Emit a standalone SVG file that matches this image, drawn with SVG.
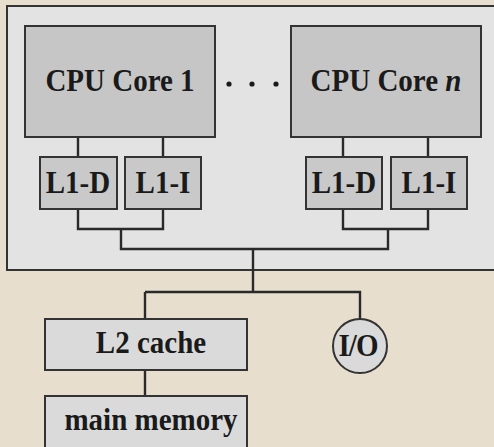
<svg xmlns="http://www.w3.org/2000/svg" width="494" height="447" viewBox="0 0 494 447">
<style>
.box{stroke:#333333;stroke-width:2}
.core{fill:#c6c6c6}
.l1{fill:#c9c9c9}
.lt{fill:#dadada}
.t{font-family:"Liberation Serif","Times New Roman",serif;font-weight:bold;font-size:29px;fill:#1a1a1a;text-anchor:middle}
.w{fill:none;stroke:#2a2a2a;stroke-width:2.4}
</style>
<rect width="494" height="447" fill="#e7dece"/>
<g id="chip"><rect class="box" x="7" y="6" width="492" height="264" fill="#e3e3e3"/></g>
<g id="connectors">
<path class="w" d="M78 137V157M163 137V157M343 137V157M428 137V157"/>
<path class="w" d="M78 209V229H163V209M121 229V249H388V229M343 209V229H428V209"/>
<path class="w" d="M253 249V292M145 292H360V319M145 292V319M145 370V396"/>
</g>
<g id="core1"><rect class="box core" x="25" y="26" width="190" height="111"/><text class="t" x="120" y="91" transform="translate(0,-7.28) scale(1,1.08)">CPU Core 1</text></g>
<g id="dots" fill="#1a1a1a"><circle cx="229" cy="84" r="2.6"/><circle cx="252" cy="84" r="2.6"/><circle cx="276" cy="84" r="2.6"/></g>
<g id="coren"><rect class="box core" x="291" y="26" width="190" height="111"/><text class="t" x="386" y="91" transform="translate(0,-7.28) scale(1,1.08)">CPU Core <tspan font-style="italic">n</tspan></text></g>
<g id="l1d-1"><rect class="box l1" x="40" y="157" width="77" height="52"/><text class="t" x="78" y="193" transform="translate(0,-15.44) scale(1,1.08)">L1-D</text></g>
<g id="l1i-1"><rect class="box l1" x="125" y="157" width="76" height="52"/><text class="t" x="163" y="193" transform="translate(0,-15.44) scale(1,1.08)">L1-I</text></g>
<g id="l1d-n"><rect class="box l1" x="306" y="157" width="76" height="52"/><text class="t" x="344" y="193" transform="translate(0,-15.44) scale(1,1.08)">L1-D</text></g>
<g id="l1i-n"><rect class="box l1" x="391" y="157" width="76" height="52"/><text class="t" x="429" y="193" transform="translate(0,-15.44) scale(1,1.08)">L1-I</text></g>
<g id="l2"><rect class="box lt" x="45" y="319" width="202" height="51"/><text class="t" x="151" y="353" transform="translate(0,-28.24) scale(1,1.08)">L2 cache</text></g>
<g id="io"><circle class="box lt" cx="360" cy="346" r="27"/><text class="t" x="358" y="356" letter-spacing="-1" transform="translate(0,-28.48) scale(1,1.08)">I/O</text></g>
<g id="mem"><rect class="box lt" x="45" y="396" width="202" height="60"/><text class="t" x="151" y="430" transform="translate(0,-34.4) scale(1,1.08)">main memory</text></g>
</svg>
